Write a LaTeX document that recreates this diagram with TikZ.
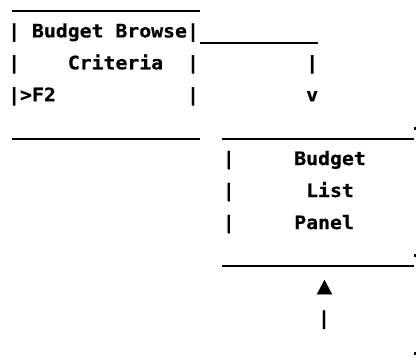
\documentclass[tikz,border=0pt]{standalone}
\usepackage{fontspec}
\usepackage{tikz}
\usetikzlibrary{calc,positioning}
\newfontfamily\artfont[FakeStretch=1.07,FakeBold=0.6]{DejaVu Sans Mono}

\begin{document}
\begin{tikzpicture}[
  x=1pt, y=-1pt,
  art/.style={anchor=base west, inner sep=0pt, font=\artfont\bfseries\fontsize{18.5}{22}\selectfont},
  bigtip/.style={anchor=base, inner sep=0pt, font=\artfont\fontsize{24}{26}\selectfont},
  rule/.style={line width=2.2pt, black},
  speck/.style={fill=black, draw=none}
]
  \useasboundingbox (0,0) rectangle (416,360);

  % Criteria screen
  \node[art] (cbar1)  at ({8+11.92*0},  37.4) {|};
  \node[art] (ctitle) at ({8+11.92*2},  37.4) {Budget Browse};
  \node[art] (cbar2)  at ({8+11.92*15}, 37.4) {|};
  \node[art] (cbar3)  at ({8+11.92*0},  69.3) {|};
  \node[art] (csub)   at ({8+11.92*5},  69.3) {Criteria};
  \node[art] (cbar4)  at ({8+11.92*15}, 69.3) {|};
  \node[art] (ckey)   at ({8+11.92*0}, 101.2) {|>F2};
  \node[art] (cbar5)  at ({8+11.92*15},101.2) {|};

  % Down arrow
  \node[art] (dstem) at ({8+11.92*25},  69.3) {|};
  \node[art] (dhead) at ({8+11.92*25}, 101.2) {v};

  % List panel
  \node[art] (lbar1) at ({8+11.92*18}, 165) {|};
  \node[art] (ltop)  at ({8+11.92*24}, 165) {Budget};
  \node[art] (lbar2) at ({8+11.92*18}, 197) {|};
  \node[art] (lmid)  at ({8+11.92*25}, 197) {List};
  \node[art] (lbar3) at ({8+11.92*18}, 229) {|};
  \node[art] (lbot)  at ({8+11.92*24}, 229) {Panel};

  % Up arrow
  \node[bigtip] (uhead) at (324.5, 293.5) {▲};
  \node[art] (ustem) at ({8+11.92*26}, 324.6) {|};

  % Rules
  \coordinate (c1) at (12, 11);   \coordinate (c2) at (200, 11);
  \coordinate (c3) at (200, 43);  \coordinate (c4) at (318, 43);
  \coordinate (c5) at (12, 139);  \coordinate (c6) at (200, 139);
  \coordinate (l1) at (222, 139); \coordinate (l2) at (414, 139);
  \coordinate (l3) at (222, 266); \coordinate (l4) at (414, 266);
  \draw[rule] (c1) -- (c2);
  \draw[rule] (c3) -- (c4);
  \draw[rule] (c5) -- (c6);
  \draw[rule] (l1) -- (l2);
  \draw[rule] (l3) -- (l4);

  % Clipped marks at the right edge
  \path[speck] (414,126.7) rectangle (416,130);
  \path[speck] (414,253.5) rectangle (416,257);
  \path[speck] (414,351.5) rectangle (416,355);
\end{tikzpicture}
\end{document}
